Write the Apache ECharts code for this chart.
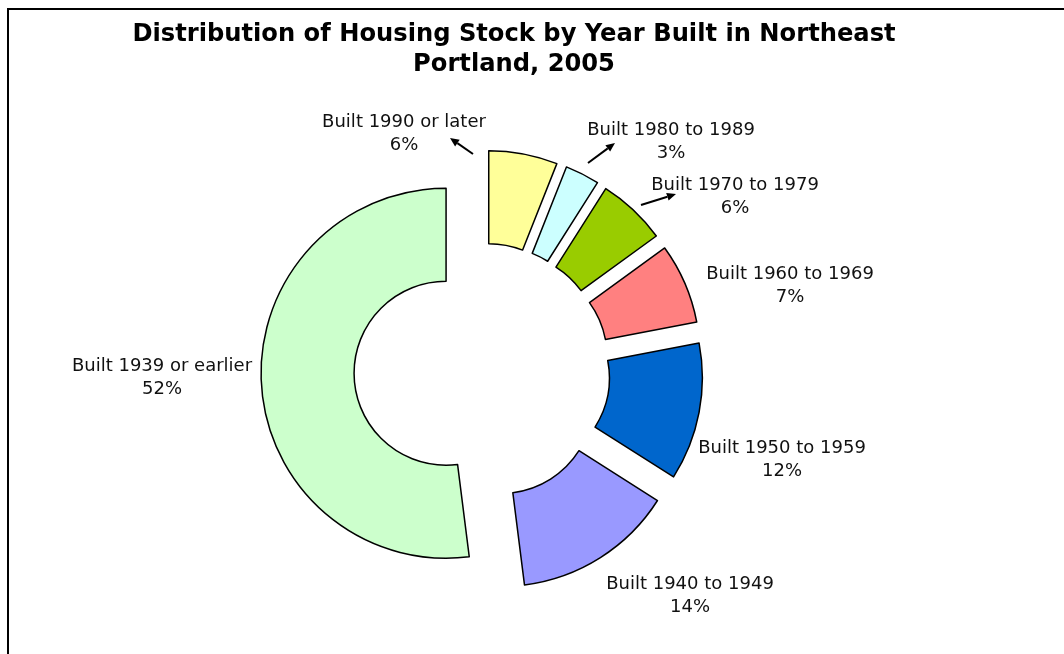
<!DOCTYPE html>
<html lang="en">
<head>
    <meta charset="UTF-8">
    <title>Housing Stock by Year Built</title>
    <style>
        html, body { margin: 0; padding: 0; background: #fff; }
        #chart { width: 1064px; height: 654px; }
    </style>
    <script src="https://cdn.jsdelivr.net/npm/echarts@6/dist/echarts.min.js"></script>
</head>
<body>
    <div id="chart"></div>
    <script>
        // data, clockwise from 12 o'clock
        const categories = ['Built 1990 or later', 'Built 1980 to 1989', 'Built 1970 to 1979',
            'Built 1960 to 1969', 'Built 1950 to 1959', 'Built 1940 to 1949', 'Built 1939 or earlier'];
        const shares = [6, 3, 6, 7, 12, 14, 52];
        const colors = ['#FFFF99', '#CCFFFF', '#99CC00', '#FF8080', '#0066CC', '#9999FF', '#CCFFCC'];

        // label centres and leader arrows (annotation layout)
        const labelPos = [[404, 134], [671, 142], [735, 197], [790, 286], [782, 460], [690, 596], [162, 378]];
        const arrows = [[[473, 154], [450, 138]], [[588, 163], [615, 143]], [[641, 205], [676, 194]]];

        const chart = echarts.init(document.getElementById('chart'));

        function arrowGraphics() {
            const out = [];
            arrows.forEach(([a, b]) => {
                const ang = Math.atan2(b[1] - a[1], b[0] - a[0]);
                const L = 9, W = 4;
                const bx = b[0] - Math.cos(ang) * L, by = b[1] - Math.sin(ang) * L;
                out.push({
                    type: 'line', silent: true,
                    shape: { x1: a[0], y1: a[1], x2: bx, y2: by },
                    style: { stroke: '#000', lineWidth: 2 }
                });
                out.push({
                    type: 'polygon', silent: true,
                    shape: { points: [b, [bx - Math.sin(ang) * W, by + Math.cos(ang) * W], [bx + Math.sin(ang) * W, by - Math.cos(ang) * W]] },
                    style: { fill: '#000' }
                });
            });
            return out;
        }

        // slice labels: category + share
        const labelGraphics = categories.map((name, i) => ({
            type: 'text', silent: true,
            x: labelPos[i][0],
            y: labelPos[i][1],
            style: {
                text: name + '\n' + shares[i] + '%',
                align: 'center',
                verticalAlign: 'middle',
                fontFamily: 'DejaVu Sans',
                fontSize: 18,
                lineHeight: 23,
                fill: '#111'
            }
        }));

        const option = {
            animation: false,
            title: {
                text: 'Distribution of Housing Stock by Year Built in Northeast\nPortland, 2005',
                left: 514,
                top: 20,
                textAlign: 'center',
                padding: 0,
                textStyle: {
                    fontFamily: 'DejaVu Sans',
                    fontWeight: 'bold',
                    fontSize: 24.2,
                    lineHeight: 30,
                    color: '#000'
                }
            },
            graphic: [{
                type: 'rect', silent: true,
                shape: { x: 8, y: 9, width: 1100, height: 700 },
                style: { fill: 'none', stroke: '#000', lineWidth: 2 }
            }].concat(arrowGraphics(), labelGraphics),
            series: [{
                type: 'pie',
                center: [482, 371],
                radius: [92, 185],
                startAngle: 90,
                clockwise: true,
                selectedMode: 'multiple',
                selectedOffset: 36,
                avoidLabelOverlap: false,
                itemStyle: { borderColor: '#000', borderWidth: 1.5 },
                select: { itemStyle: { borderColor: '#000', borderWidth: 1.5 } },
                emphasis: { disabled: true },
                label: { show: false },
                labelLine: { show: false },
                data: categories.map((name, i) => ({
                    name: name,
                    value: shares[i],
                    selected: true,
                    itemStyle: { color: colors[i] }
                }))
            }]
        };

        chart.setOption(option);
    </script>
</body>
</html>
